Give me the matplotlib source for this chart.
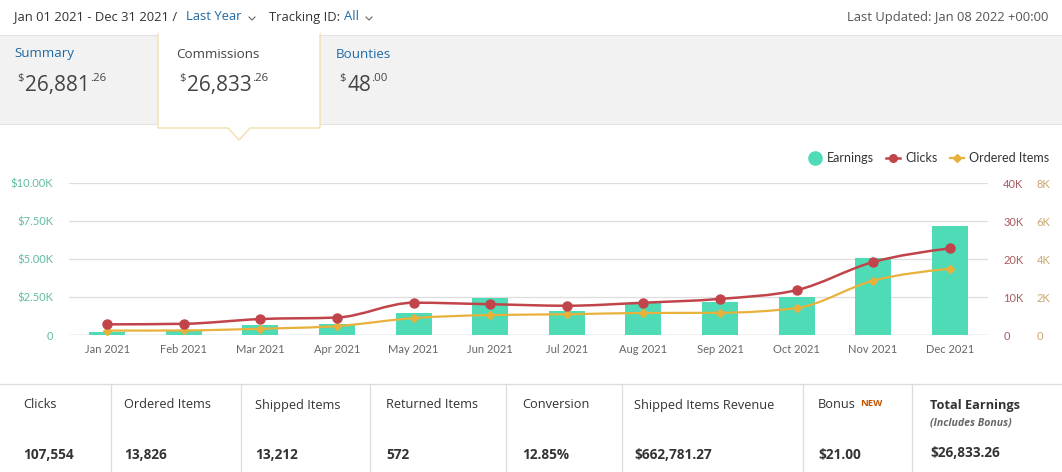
import numpy as np
import matplotlib
matplotlib.use("Agg")
import matplotlib.pyplot as plt
from matplotlib.path import Path
from matplotlib.patches import PathPatch, Rectangle, Polygon
from matplotlib.lines import Line2D

# ---------------- data ----------------
months = ['Jan 2021', 'Feb 2021', 'Mar 2021', 'Apr 2021', 'May 2021', 'Jun 2021',
          'Jul 2021', 'Aug 2021', 'Sep 2021', 'Oct 2021', 'Nov 2021', 'Dec 2021']
earnings = [220, 330, 660, 740, 1450, 2430, 1580, 2130, 2170, 2520, 5040, 7170]
clicks = [2800, 2950, 4200, 4600, 8500, 8100, 7700, 8500, 9500, 11800, 19200, 22800]
ordered = [230, 240, 330, 470, 890, 1050, 1090, 1160, 1170, 1420, 2860, 3490]

earn_ticks = [0, 2500, 5000, 7500, 10000]
earn_labels = ['0', '$2.50K', '$5.00K', '$7.50K', '$10.00K']
click_ticks = [0, 10000, 20000, 30000, 40000]
click_labels = ['0', '10K', '20K', '30K', '40K']
ord_ticks = [0, 2000, 4000, 6000, 8000]
ord_labels = ['0', '2K', '4K', '6K', '8K']

table_labels = ['Clicks', 'Ordered Items', 'Shipped Items', 'Returned Items',
                'Conversion', 'Shipped Items Revenue', 'Bonus', 'Total Earnings']
table_values = ['107,554', '13,826', '13,212', '572', '12.85%', '$662,781.27',
                '$21.00', '$26,833.26']

tabs = ['Summary', 'Commissions', 'Bounties']
tab_whole = ['26,881', '26,833', '48']
tab_cents = ['.26', '.26', '.00']

# ---------------- style ----------------
TEAL = '#4edbb6'
RED = '#c2444b'
YEL = '#e8b13c'
BLUE = '#1f6aa5'
DARK = '#333333'
FONT = ['Open Sans', 'DejaVu Sans']
CFONT = ['Lato', 'DejaVu Sans']

W, H = 1062, 472
fig = plt.figure(figsize=(W / 100, H / 100), dpi=100)
fig.patch.set_facecolor('white')
renderer = fig.canvas.get_renderer()

# background axes in pixel coordinates
bg = fig.add_axes([0, 0, 1, 1], zorder=-10)
bg.set_xlim(0, W)
bg.set_ylim(H, 0)
bg.axis('off')


def right_px(t):
    return t.get_window_extent(renderer).x1


# header
t = bg.text(14, 17, 'Jan 01 2021 - Dec 31 2021 / ', fontsize=9.4, color=DARK, va='center', family=FONT)
bg.text(186, 17, 'Last Year', fontsize=9.4, color=BLUE, va='center', family=FONT)
t = bg.text(269, 17, 'Tracking ID:', fontsize=9.4, color=DARK, va='center', family=FONT)
bg.text(right_px(t) + 4, 17, 'All', fontsize=9.4, color=BLUE, va='center', family=FONT)
for cx in (252, 369):
    bg.add_line(Line2D([cx - 3, cx, cx + 3], [17, 20, 17], color='#666666', lw=0.8))
bg.text(1048, 17, 'Last Updated: Jan 08 2022 +00:00', fontsize=9.4, color='#555555',
        va='center', ha='right', family=FONT)

# gray band
bg.add_patch(Rectangle((0, 35), W, 89, facecolor='#f2f2f2', edgecolor='none'))
bg.add_line(Line2D([0, W], [35, 35], color='#e2e2e2', lw=0.8))
bg.add_line(Line2D([0, W], [124, 124], color='#e2e2e2', lw=0.8))
# active tab
bg.add_patch(Polygon([(158, 33), (320, 33), (320, 128), (250, 128), (239, 140), (228, 128), (158, 128)],
                     closed=True, facecolor='white', edgecolor='#f1dba8', lw=0.9, zorder=2))
bg.add_line(Line2D([158.6, 319.4], [33, 33], color='white', lw=1.5, zorder=3))

tab_x = [14, 176, 336]
tab_col = [BLUE, '#444444', BLUE]
for i in range(3):
    x0 = tab_x[i]
    bg.text(x0, 54, tabs[i], fontsize=9.6, color=tab_col[i], va='center', family=FONT, zorder=4)
    bg.text(x0 + 3, 73, '$', fontsize=8, color='#444444', va='top', family=FONT, zorder=4)
    t = bg.text(x0 + 11, 91, tab_whole[i], fontsize=15, color='#444444', va='baseline',
                family=FONT, zorder=4)
    bg.text(right_px(t) + 0.5, 73, tab_cents[i], fontsize=8.2, color='#444444', va='top',
            family=FONT, zorder=4)

# table
bg.add_line(Line2D([0, W], [384, 384], color='#dcdcdc', lw=0.9))
seps = [111, 241, 370, 506, 622, 803, 912]
for sx in seps:
    bg.add_line(Line2D([sx, sx], [384, H], color='#dcdcdc', lw=0.9))
col_x = [23, 124, 255, 386, 522, 634, 818, 930]
for i, (lab, val) in enumerate(zip(table_labels, table_values)):
    bold = (i == 7)
    t = bg.text(col_x[i], 405, lab, fontsize=9.2, color=DARK, va='center', family=FONT,
                fontweight='bold' if bold else 'normal')
    if lab == 'Bonus':
        bg.text(right_px(t) + 4, 403, 'NEW', fontsize=6.8, color='#c45500', va='center',
                family=FONT, fontweight='bold')
    bg.text(col_x[i], 455 if not bold else 453, val, fontsize=9.8, color=DARK, va='center',
            family=FONT, fontweight='bold')
bg.text(930, 423, '(Includes Bonus)', fontsize=7.6, color='#666666', va='center', family=FONT,
        style='italic', fontweight='bold')

# ---------------- chart ----------------
L, R, T, B = 69, 988, 183, 335
ax = fig.add_axes([L / W, 1 - B / H, (R - L) / W, (B - T) / H])
ax2 = ax.twinx()
ax3 = ax.twinx()
xs = np.arange(len(months))

ax.bar(xs, earnings, width=0.47, color=TEAL, zorder=2)
ax.set_xlim(-0.5, len(months) - 0.5)
ax.set_ylim(0, 10000)
ax.set_yticks(earn_ticks)
ax.set_yticklabels(earn_labels)
ax.set_xticks(xs)
ax.set_xticklabels(months)
ax.grid(axis='y', color='#dedede', lw=0.9, zorder=0)
ax.set_axisbelow(True)
for sp in ax.spines.values():
    sp.set_visible(False)
ax.axhline(0, color='#c9cdd2', lw=1.0, zorder=1)
ax.tick_params(axis='y', length=0, pad=11.5, labelsize=8, labelcolor='#62bba4')
ax.tick_params(axis='x', length=0, pad=6.5, labelsize=8, labelcolor='#666666')
for lab in ax.get_xticklabels() + ax.get_yticklabels():
    lab.set_family(CFONT)


def smooth_path(x, y):
    x = np.asarray(x, float)
    y = np.asarray(y, float)
    n = len(x)
    h = np.diff(x)
    s = np.diff(y) / h
    m = np.zeros(n)
    for i in range(1, n - 1):
        p = (s[i - 1] * h[i] + s[i] * h[i - 1]) / (h[i - 1] + h[i])
        m[i] = (np.sign(s[i - 1]) + np.sign(s[i])) * min(abs(s[i - 1]), abs(s[i]), 0.5 * abs(p))
    m[0] = (3 * s[0] - m[1]) / 2
    m[-1] = (3 * s[-1] - m[-2]) / 2
    verts = [(x[0], y[0])]
    codes = [Path.MOVETO]
    for i in range(n - 1):
        d = h[i] / 3
        verts += [(x[i] + d, y[i] + m[i] * d), (x[i + 1] - d, y[i + 1] - m[i + 1] * d), (x[i + 1], y[i + 1])]
        codes += [Path.CURVE4] * 3
    return Path(verts, codes)


ax2.set_ylim(0, 8000)
ax2.add_patch(PathPatch(smooth_path(xs, ordered), facecolor='none', edgecolor=YEL, lw=1.6, zorder=3))
ax2.plot(xs, ordered, ls='none', marker='D', ms=4.2, color=YEL, zorder=4)
ax2.set_yticks(ord_ticks)
ax2.set_yticklabels(ord_labels)
ax2.tick_params(axis='y', length=0, pad=35, labelsize=8, labelcolor='#c9a66c')

ax3.set_ylim(0, 40000)
ax3.add_patch(PathPatch(smooth_path(xs, clicks), facecolor='none', edgecolor=RED, lw=1.8, zorder=3))
ax3.plot(xs, clicks, ls='none', marker='o', ms=6.5, color=RED, zorder=4)
ax3.set_yticks(click_ticks)
ax3.set_yticklabels(click_labels)
ax3.tick_params(axis='y', length=0, pad=11, labelsize=8, labelcolor='#a85a5f')

for a in (ax2, ax3):
    for sp in a.spines.values():
        sp.set_visible(False)
    for lab in a.get_yticklabels():
        lab.set_family(CFONT)

handles = [Line2D([], [], ls='none', marker='o', ms=9.5, color=TEAL),
           Line2D([], [], color=RED, lw=1.8, marker='o', ms=5.5),
           Line2D([], [], color=YEL, lw=1.6, marker='D', ms=4)]
leg = fig.legend(handles, ['Earnings', 'Clicks', 'Ordered Items'], ncol=3, frameon=False,
                 loc='center right', bbox_to_anchor=(1060 / W, 1 - 158 / H),
                 handlelength=1.1, handletextpad=0.4, columnspacing=1.0,
                 prop={'family': CFONT, 'size': 9})
for t in leg.get_texts():
    t.set_color(DARK)

fig.savefig('out.png', dpi=100, facecolor='white')
